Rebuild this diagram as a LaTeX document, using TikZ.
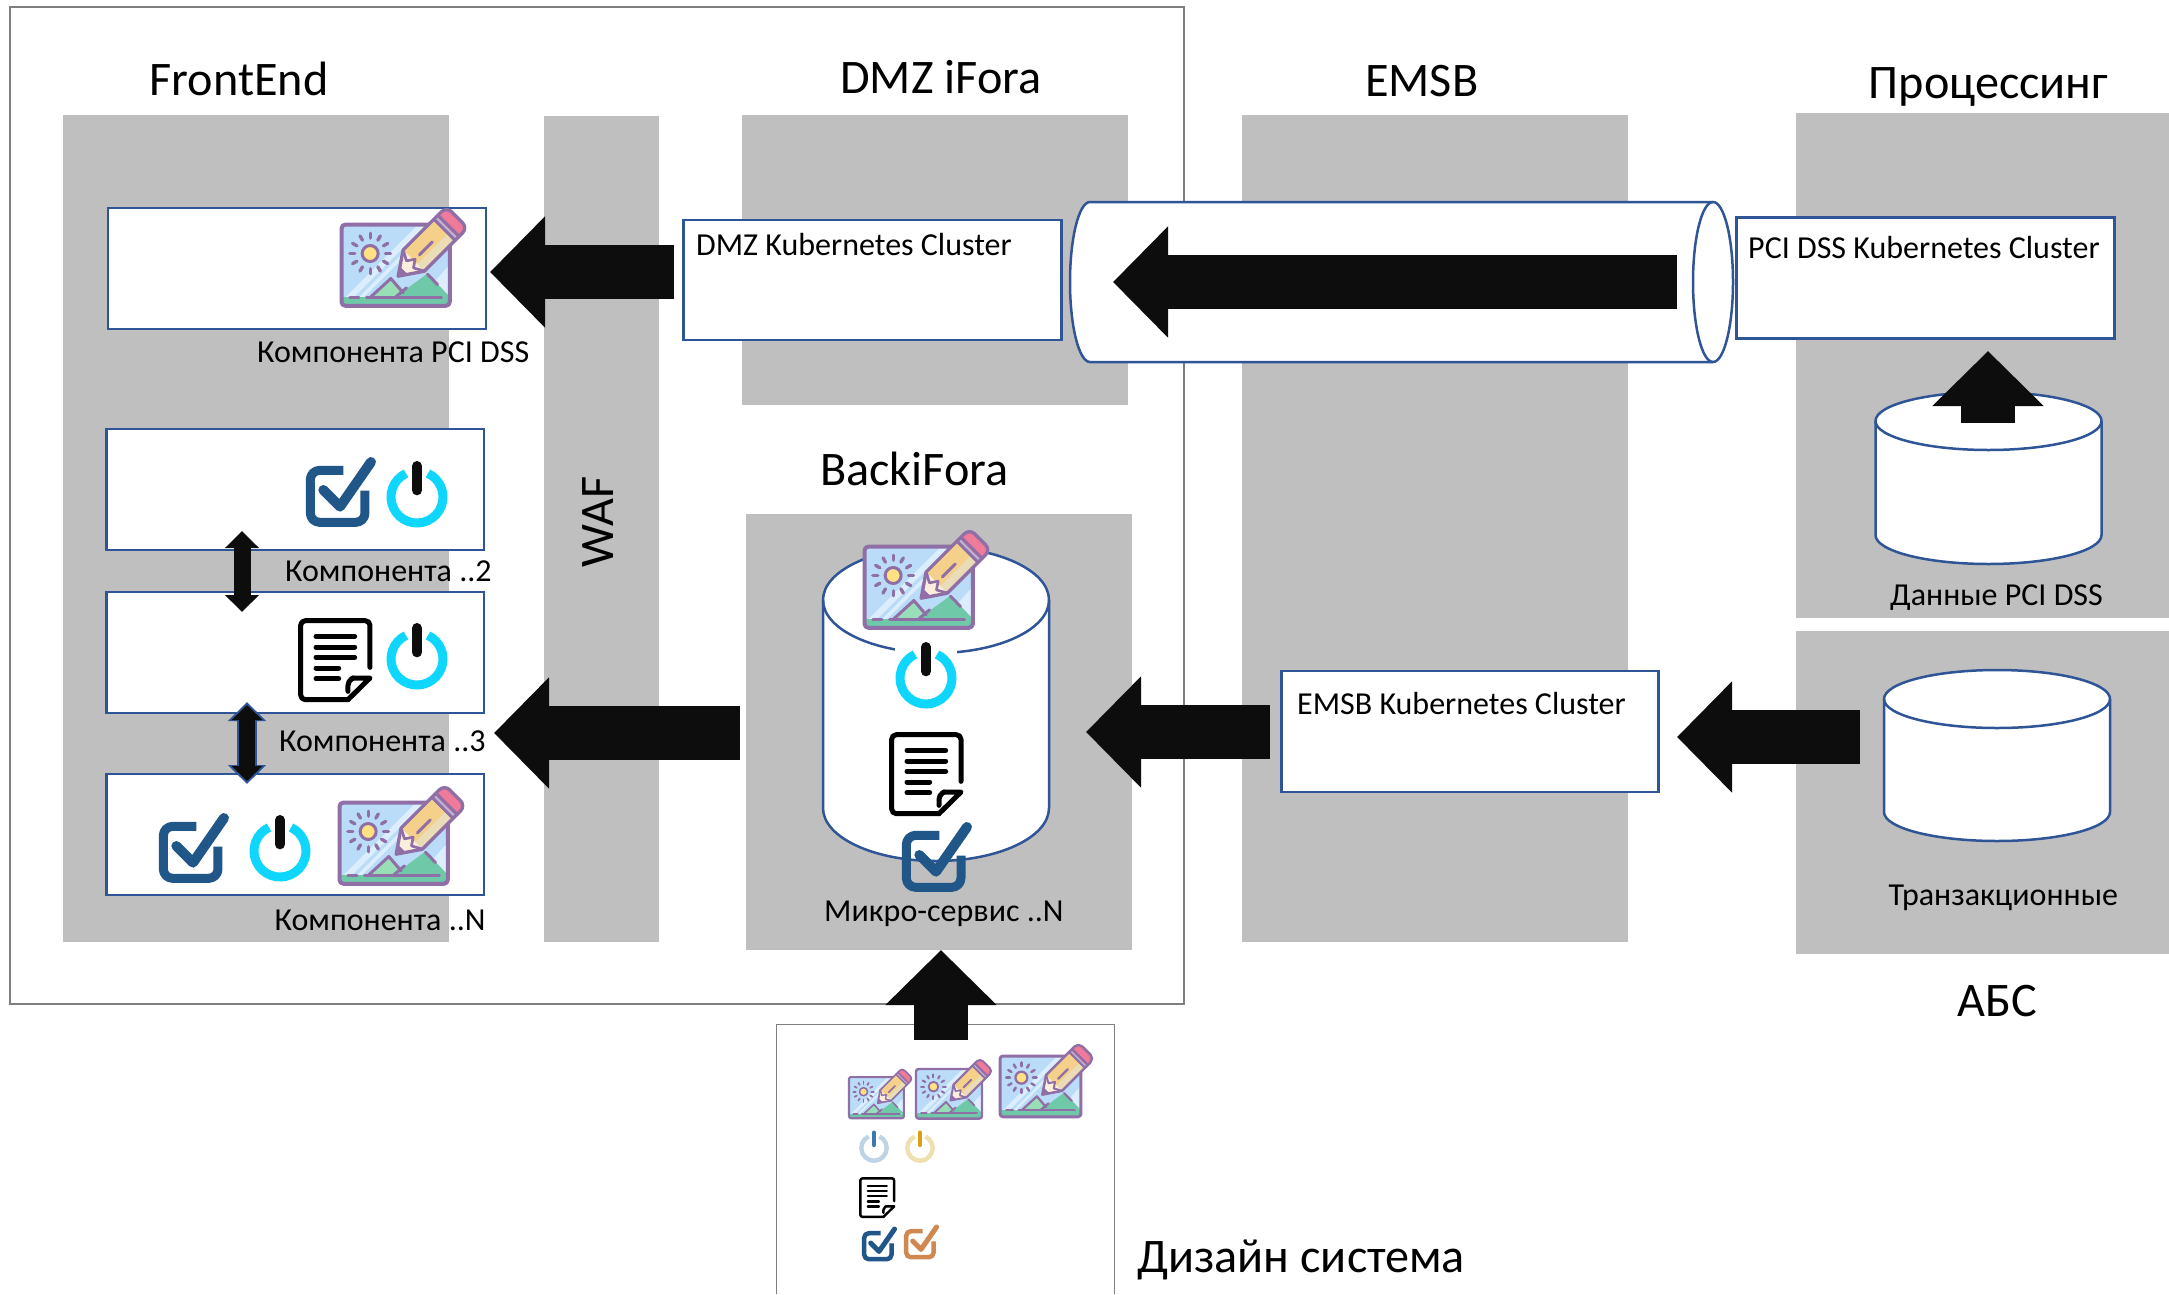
\documentclass[tikz,border=0pt]{standalone}
\usepackage{fontspec}
\setmainfont{Carlito}
\usetikzlibrary{arrows.meta}
\definecolor{panel}{HTML}{BFBFBF}
\definecolor{framegrey}{HTML}{7F7F7F}
\definecolor{boxblue}{HTML}{2F5597}
\definecolor{inkblack}{HTML}{0D0D0D}
\definecolor{icpurple}{HTML}{8F6FA6}
\definecolor{icsky}{HTML}{BADCF8}
\definecolor{icpale}{HTML}{DCEEFD}
\definecolor{icgreen}{HTML}{6FC8A8}
\definecolor{icmint}{HTML}{98DFB8}
\definecolor{icsun}{HTML}{FFE082}
\definecolor{icwood}{HTML}{F5D08A}
\definecolor{iccream}{HTML}{FBEEDD}
\definecolor{icband}{HTML}{B7B8DC}
\definecolor{icpink}{HTML}{EF7A9A}
\definecolor{chkblue}{HTML}{215788}
\definecolor{chkorange}{HTML}{D08850}
\definecolor{pwrcyan}{HTML}{0FD6FC}
\definecolor{pwrpaleblue}{HTML}{BDD3E6}
\definecolor{pwrbarblue}{HTML}{3A78B0}
\definecolor{pwrpaleyel}{HTML}{EFE0B0}
\definecolor{pwrbaryel}{HTML}{DBA00F}
\tikzset{
  x=1pt,y=-1pt,
  panelbox/.style={fill=panel,draw=none},
  whitebox/.style={draw=boxblue,fill=white,line width=2.5pt,anchor=north west,inner sep=0pt,outer sep=0pt},
  cylline/.style={draw=boxblue,fill=white,line width=2.5pt},
  bigarrow/.style={draw=inkblack,line width=54pt,-{Triangle[width=108pt,length=55pt]}},
  dblarrow/.style={draw=inkblack,line width=17pt,{Triangle[width=33pt,length=17pt]}-{Triangle[width=33pt,length=17pt]}},
  dblhalo/.style={draw=boxblue,line width=20pt,{Triangle[width=37pt,length=19pt]}-{Triangle[width=37pt,length=19pt]}},
  dblcore/.style={draw=inkblack,line width=16pt,{Triangle[width=30pt,length=15pt]}-{Triangle[width=30pt,length=15pt]}},
  head/.style={anchor=base west,inner sep=0pt,font=\fontsize{48.2}{52}\selectfont},
  lab/.style={anchor=base west,inner sep=0pt,font=\fontsize{32}{36}\selectfont,text=black},
}
% image-with-pencil icon: frame left, frame top, scale
\newcommand\iconimg[3]{%
\begin{scope}[shift={(#1,#2)},scale=#3,line cap=round,line join=round]
  \fill[icsky,rounded corners=#3*12pt] (0,0) rectangle (325,244);
  \begin{scope}
    \clip[rounded corners=#3*12pt] (0,0) rectangle (325,244);
    \fill[icpale] (325,0) -- (325,244) -- (215,244) -- (325,120) -- cycle;
    \fill[icpale] (10,220) -- (225,5) -- (250,5) -- (35,220) -- cycle;
    \fill[icpale] (50,220) -- (265,5) -- (280,5) -- (65,220) -- cycle;
    \fill[icgreen] (0,218) rectangle (325,244);
    \fill[icgreen] (163,217) -- (258,147) -- (325,217) -- cycle;
    \fill[icmint] (88,217) -- (148,162) -- (185,205) -- (165,217) -- cycle;
  \end{scope}
  \draw[icpurple,line width=#3*9pt] (88,217) -- (148,162) -- (185,205);
  \draw[icpurple,line width=#3*9pt] (163,217) -- (195,190);
  \draw[icpurple,line width=#3*9pt] (258,149) -- (288,180);
  \draw[icpurple,line width=#3*9pt] (25,218) -- (52,218) (75,218) -- (300,218);
  \draw[icpurple,line width=#3*12pt,rounded corners=#3*12pt] (0,0) rectangle (325,244);
  \draw[icpurple,fill=icsun,line width=#3*9pt] (86,87) circle[radius=24pt];
  \foreach \a in {0,30,...,330}
    \draw[icpurple,line width=#3*10pt] (86,87) ++(\a:46pt) -- ++(\a:15pt);
  \begin{scope}[shift={(170,155)},rotate=45]
    \fill[icwood] (66,-45) rectangle (197,45);
    \fill[icpale!40!icwood] (66,15) rectangle (197,45);
    \fill[icband] (197,-45) rectangle (214,45);
    \fill[icpink,rounded corners=#3*22pt] (208,-45) -- (250,-45) -- (250,45) -- (208,45) -- cycle;
    \fill[icpink] (208,-45) rectangle (226,45);
    \fill[iccream] (4,0) -- (66,-44) -- (66,44) -- cycle;
    \fill[icpurple] (0,0) -- (24,-17) -- (24,17) -- cycle;
    \draw[icpurple,line width=#3*10pt] (66,-45) -- (0,0) -- (66,45);
    \draw[icpurple,line width=#3*10pt,rounded corners=#3*22pt] (66,-45) -- (250,-45) -- (250,45) -- (66,45);
    \draw[icpurple,line width=#3*9pt] (197,-45) -- (197,45) (214,-45) -- (214,45);
    \draw[icpurple,line width=#3*8pt] (66,-44) -- (50,-15) -- (72,0) -- (50,15) -- (66,44);
    \draw[icpurple,line width=#3*9pt] (90,0) -- (145,0);
  \end{scope}
\end{scope}}
% check box icon: box left, box top, scale, colour
\newcommand\iconchk[4]{%
\begin{scope}[shift={(#1,#2)},scale=#3,line cap=round,line join=round]
  \draw[#4,line width=#3*27pt,line cap=butt,rounded corners=#3*28pt] (112,13) -- (13,13) -- (13,169) -- (177,169) -- (177,74);
  \draw[#4,line width=#3*30pt] (52,72) -- (102,122) -- (195,-12);
\end{scope}}
% power icon: centre x, centre y, scale, ring colour, bar colour
\newcommand\iconpwr[5]{%
\begin{scope}[shift={(#1,#2)},scale=#3]
  \draw[#4,line width=#3*27pt] (115:78pt) arc[start angle=115,end angle=425,radius=78pt];
  \draw[#5,line width=#3*30pt,line cap=round] (0,-93) -- (0,-20);
\end{scope}}
% document icon: left, top, scale
\newcommand\icondoc[3]{%
\begin{scope}[shift={(#1,#2)},scale=#3,line cap=round,line join=round,line width=#3*15pt]
  \draw[black,rounded corners=#3*14pt] (216,148) -- (216,8) -- (8,8) -- (8,245) -- (150,245);
  \draw[black] (150,245) -- (216,180) -- (165,180);
  \draw[black,rounded corners=#3*12pt] (165,180) -- (150,190) -- (150,220);
  \draw[black] (54,55) -- (170,55) (54,87) -- (170,87) (54,118) -- (170,118) (54,150) -- (122,150) (54,182) -- (122,182);
\end{scope}}
\begin{document}
\begin{tikzpicture}
\useasboundingbox (0,0) rectangle (2169,1294);
\fill[white] (0,0) rectangle (2169,1294);
% frame and grey panels
\draw[framegrey,line width=2pt] (10,7) rectangle (1184,1004);
\fill[panelbox] (63,115) rectangle (449,942);
\fill[panelbox] (544,116) rectangle (659,942);
\fill[panelbox] (742,115) rectangle (1128,405);
\fill[panelbox] (746,514) rectangle (1132,950);
\fill[panelbox] (1242,115) rectangle (1628,942);
\fill[panelbox] (1796,113) rectangle (2169,618);
\fill[panelbox] (1796,631) rectangle (2169,954);
% design system frame
\draw[framegrey,line width=1pt] (776.5,1294) -- (776.5,1024) -- (1114,1024) -- (1114,1294);
% tube
\draw[cylline] (1090,202) arc[start angle=90,end angle=270,x radius=20pt,y radius=80pt] -- (1713,362) arc[start angle=-90,end angle=90,x radius=20pt,y radius=80pt] -- cycle;
\draw[boxblue,line width=2.5pt] (1713,202) arc[start angle=90,end angle=270,x radius=20pt,y radius=80pt];
% white boxes
\node[whitebox,minimum width=378pt,minimum height=121pt] (cpci) at (108,208) {};
\node[whitebox,minimum width=377.5pt,minimum height=121pt] (c2) at (106.5,429) {};
\node[whitebox,minimum width=377.5pt,minimum height=121pt] (c3) at (106.5,592) {};
\node[whitebox,minimum width=377.5pt,minimum height=121pt] (cn) at (106.5,774) {};
\node[whitebox,minimum width=378pt,minimum height=120pt] (dmz) at (683.5,220) {};
\node[whitebox,minimum width=378pt,minimum height=121pt] (pcik) at (1736.5,217.5) {};
\node[whitebox,minimum width=377pt,minimum height=121pt] (emsbk) at (1281.5,671) {};
% cylinders
\draw[cylline] (823,600) arc[start angle=180,end angle=0,x radius=113pt,y radius=53pt] -- (1049,808) arc[start angle=0,end angle=-180,x radius=113pt,y radius=53pt] -- cycle;
\draw[boxblue,line width=2.5pt] (823,600) arc[start angle=180,end angle=360,x radius=113pt,y radius=53pt];
\draw[cylline] (1875.5,421) arc[start angle=180,end angle=0,x radius=113pt,y radius=29pt] -- (2101.5,535) arc[start angle=0,end angle=-180,x radius=113pt,y radius=29pt] -- cycle;
\draw[boxblue,line width=2.5pt] (1875.5,421) arc[start angle=180,end angle=360,x radius=113pt,y radius=29pt];
\draw[cylline] (1884,699) arc[start angle=180,end angle=0,x radius=113pt,y radius=29pt] -- (2110,812) arc[start angle=0,end angle=-180,x radius=113pt,y radius=29pt] -- cycle;
\draw[boxblue,line width=2.5pt] (1884,699) arc[start angle=180,end angle=360,x radius=113pt,y radius=29pt];
% block arrows
\coordinate (a1s) at (674,272); \coordinate (a1e) at (490,272);
\coordinate (a2s) at (1677,282); \coordinate (a2e) at (1113,282);
\coordinate (a3s) at (740,733); \coordinate (a3e) at (494,733);
\coordinate (a4s) at (1270,732); \coordinate (a4e) at (1086,732);
\coordinate (a5s) at (1860,737); \coordinate (a5e) at (1677,737);
\coordinate (a6s) at (1988,423); \coordinate (a6e) at (1988,351);
\coordinate (a7s) at (941,1040); \coordinate (a7e) at (941,950);
\draw[bigarrow] (a1s) -- (a1e);
\draw[bigarrow] (a2s) -- (a2e);
\draw[bigarrow] (a3s) -- (a3e);
\draw[bigarrow] (a4s) -- (a4e);
\draw[bigarrow] (a5s) -- (a5e);
\draw[bigarrow] (a6s) -- (a6e);
\draw[bigarrow] (a7s) -- (a7e);
% small double arrows
\coordinate (d1a) at (242,531); \coordinate (d1b) at (242,612);
\coordinate (d2a) at (247,702); \coordinate (d2b) at (247,784);
\coordinate (d3a) at (247,705); \coordinate (d3b) at (247,781);
\draw[dblarrow] (d1a) -- (d1b);
\draw[dblhalo] (d2a) -- (d2b);
\draw[dblcore] (d3a) -- (d3b);
% icons
\iconimg{341.5}{224.5}{0.3333}
\iconchk{306}{466}{0.3333}{chkblue}
\iconpwr{417}{497}{0.3333}{pwrcyan}{inkblack}
\icondoc{298}{618}{0.3333}
\iconpwr{417}{659}{0.3333}{pwrcyan}{inkblack}
\iconchk{159}{822}{0.3333}{chkblue}
\iconpwr{280}{851}{0.3333}{pwrcyan}{inkblack}
\iconimg{339.5}{802.5}{0.3333}
\iconimg{864.5}{546.5}{0.3333}
\fill[white] (895,640) rectangle (957,710);
\iconpwr{926}{678}{0.3333}{pwrcyan}{inkblack}
\icondoc{889}{732}{0.3333}
\iconchk{902}{831}{0.3333}{chkblue}
\iconimg{849}{1077}{0.169}
\iconimg{916}{1069}{0.203}
\iconimg{1000}{1056}{0.249}
\iconpwr{874}{1148}{0.163}{pwrpaleblue}{pwrbarblue}
\iconpwr{920}{1148}{0.163}{pwrpaleyel}{pwrbaryel}
\icondoc{859}{1177}{0.163}
\iconchk{862}{1231}{0.167}{chkblue}
\iconchk{904}{1229}{0.167}{chkorange}
% headings
\node[head] (tfe) at (149.5,95.5) {FrontEnd};
\node[head] (tdmz) at (840,93.5) {DMZ iFora};
\node[head] (temsb) at (1365,96.5) {EMSB};
\node[head] (tproc) at (1868.5,98) {Процессинг};
\node[head] (tback) at (820,485.5) {BackiFora};
\node[head] (tabs) at (1957,1016.5) {АБС};
\node[head] (tds) at (1137,1272) {Дизайн система};
\node[head,anchor=center,rotate=90] (twaf) at (598,522) {WAF};
% labels
\node[lab] (lpci) at (257,362.5) {Компонента PCI DSS};
\node[lab] (l2) at (285,581) {Компонента ..2};
\node[lab] (l3) at (279,751) {Компонента ..3};
\node[lab] (ln) at (274.5,930) {Компонента ..N};
\node[lab] (lm) at (824,921.5) {Микро-сервис ..N};
\node[lab] (ld) at (1890,605) {Данные PCI DSS};
\node[lab] (lt) at (1888.5,905.5) {Транзакционные};
\node[lab] (kd) at (696,255) {DMZ Kubernetes Cluster};
\node[lab] (kp) at (1748,258) {PCI DSS Kubernetes Cluster};
\node[lab] (ke) at (1297,714) {EMSB Kubernetes Cluster};
\end{tikzpicture}
\end{document}
